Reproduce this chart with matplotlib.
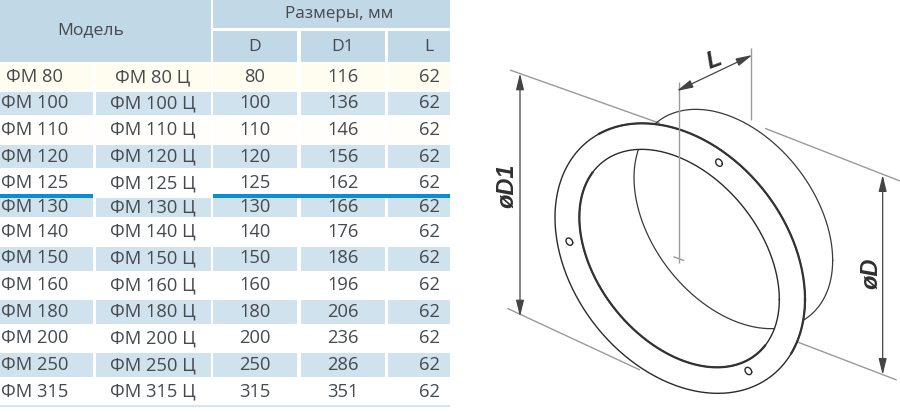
import numpy as np
import matplotlib
matplotlib.use("Agg")
import matplotlib.pyplot as plt
from matplotlib.patches import Rectangle, PathPatch
from matplotlib.path import Path

# ---- table content ----
models = ["ФМ 80", "ФМ 100", "ФМ 110", "ФМ 120", "ФМ 125", "ФМ 130", "ФМ 140",
          "ФМ 150", "ФМ 160", "ФМ 180", "ФМ 200", "ФМ 250", "ФМ 315"]
models_c = ["ФМ 80 Ц", "ФМ 100 Ц", "ФМ 110 Ц", "ФМ 120 Ц", "ФМ 125 Ц", "ФМ 130 Ц", "ФМ 140 Ц",
            "ФМ 150 Ц", "ФМ 160 Ц", "ФМ 180 Ц", "ФМ 200 Ц", "ФМ 250 Ц", "ФМ 315 Ц"]
d_values = [80, 100, 110, 120, 125, 130, 140, 150, 160, 180, 200, 250, 315]
d1_values = [116, 136, 146, 156, 162, 166, 176, 186, 196, 206, 236, 286, 351]
l_values = [62] * 13

plt.rcParams['font.family'] = ['Open Sans', 'DejaVu Sans']
TXT = '#454a4e'
HEAD = '#c1d8e6'
BAND = '#cfe2ed'
CREAM = '#fffdf0'
BLUE = '#0a8cd6'

fig = plt.figure(figsize=(9, 4.13), dpi=100)
ax = fig.add_axes([0, 0, 1, 1])
ax.set_xlim(0, 900)
ax.set_ylim(413, 0)
ax.axis('off')

def box(x0, x1, y0, y1, c, z=1):
    ax.add_patch(Rectangle((x0, y0), x1 - x0, y1 - y0, fc=c, ec='none', zorder=z))

cols = [(0, 93), (96, 210.5), (213, 297), (300.5, 384.5), (387.5, 450)]
col_c = [35, 153, 255, 343, 429]
row_c = [77, 103.3, 130, 156.7, 183.3, 207.5, 231.7, 258.3, 285, 311.7, 338.3, 365, 391.7]
bands = {1: (91.7, 115), 3: (145, 168.3), 5: (198, 217.3), 7: (246.7, 270.7),
         9: (300, 324), 11: (353.3, 377.3)}

# header
box(0, 210.5, 0, 62, HEAD)
box(213, 450, 0, 28, HEAD)
for x0, x1 in cols[2:]:
    box(x0, x1, 31, 62, HEAD)
ax.text(91, 30, "Модель", ha='center', va='center', fontsize=12.6, color=TXT)
ax.text(339, 14, "Размеры, мм", ha='center', va='center', fontsize=12.3, color=TXT)
for x, s in zip(col_c[2:], ["D", "D1", "L"]):
    ax.text(x, 47, s, ha='center', va='center', fontsize=12.6, color=TXT)

# body
for x0, x1 in cols:
    box(x0, x1, 64, 89, CREAM)
    box(x0, x1, 117, 143, '#fffefa')
    for y0, y1 in bands.values():
        box(x0, x1, y0, y1, BAND)
box(0, 93, 193.5, 197.5, BLUE, 3)
box(213, 450, 193.5, 197.5, BLUE, 3)
box(0, 450, 404.5, 406.5, '#d6e6f0')

for i, y in enumerate(row_c):
    vals = [models[i], models_c[i], d_values[i], d1_values[i], l_values[i]]
    for x, v in zip(col_c, vals):
        ax.text(x, y, str(v), ha='center', va='center', fontsize=13.2, color=TXT, zorder=2)

# ---- drawing (coordinates in a local frame, offset to the figure) ----
def P(zx, zy):
    return 490 + np.asarray(zx) / 3.0, 20 + np.asarray(zy) / 3.0

def ell(cx, cy, sxx, syy, sxy, n=360):
    t = np.linspace(0, 2 * np.pi, n)
    L = np.linalg.cholesky(np.array([[sxx, sxy], [sxy, syy]]))
    xy = L @ np.vstack([np.cos(t), np.sin(t)])
    return cx + xy[0], cy + xy[1]

GREY = '#9a9a9a'
DARK = '#2b2b2b'

def seg(x0, y0, x1, y1, c=GREY, lw=1.0, z=6):
    xs, ys = P([x0, x1], [y0, y1])
    ax.plot(xs, ys, color=c, lw=lw, zorder=z, solid_capstyle='butt')

def arc(e, ux, uy, thr, lw, c='#333333'):
    """Heavier part of an ellipse: points whose offset along (ux, uy) exceeds thr."""
    x, y = ell(*e)
    d = (x - e[0]) * ux + (y - e[1]) * uy
    x = np.where(d > thr, x, np.nan)
    y = np.where(d > thr, y, np.nan)
    px, py = P(x, y)
    ax.plot(px, py, color=c, lw=lw, zorder=5)

outer = (570, 715, 375**2, 405**2, 46000)
inner = (568, 715, 300**2, 327**2, 37000)
back = (730, 597, 298**2, 329**2, 37000)

# back rim of the tube
bx, by = P(*ell(*back))
ax.plot(bx, by, color='#3a3a3a', lw=0.9, zorder=3)

# white flange ring
ox, oy = P(*ell(*outer))
ix, iy = P(*ell(*inner))
ring_v = np.vstack([np.column_stack([ox, oy]), np.column_stack([ix[::-1], iy[::-1]])])
ring_c = [Path.MOVETO] + [Path.LINETO] * (len(ox) - 1) + [Path.MOVETO] + [Path.LINETO] * (len(ix) - 1)
ax.add_patch(PathPatch(Path(ring_v, ring_c), fc='white', ec='none', zorder=4))
ax.plot(ox, oy, color=DARK, lw=1.0, zorder=5)
ax.plot(ix, iy, color=DARK, lw=1.0, zorder=5)

# thickened edges
arc(inner, -0.7, 0.7, 0, 1.6)
arc(outer, 0.75, -0.66, 60, 1.6)

# bolt holes
for hx, hy in [(687, 428), (238, 665), (775, 1053)]:
    cx, cy = P(*ell(hx, hy, 10**2, 11**2, 30, n=40))
    ax.plot(cx, cy, color=DARK, lw=1.0, zorder=5)

# extension lines
seg(60, 150, 510, 310, z=2)
seg(825, 325, 1230, 483, z=2)
seg(52, 865, 450, 1050, z=2)
seg(920, 965, 1220, 1080, z=2)
seg(567, 185, 567, 728)
seg(550, 710, 583, 722)
seg(783, 85, 783, 300, z=2)

def arrow(x0, y0, x1, y1):
    a, b = P([x0, x1], [y0, y1])
    ax.annotate('', xy=(a[1], b[1]), xytext=(a[0], b[0]), zorder=6,
                arrowprops=dict(arrowstyle='<|-|>,head_length=0.9,head_width=0.22',
                                color='#444444', lw=0.9,
                                mutation_scale=11, shrinkA=0, shrinkB=0))

arrow(90, 160, 90, 890)
arrow(1178, 465, 1178, 1065)
arrow(560, 213, 787, 105)

def label(zx, zy, s, rot):
    x, y = P(zx, zy)
    ax.text(x, y, s, ha='center', va='center', rotation=rot, fontsize=17,
            fontweight='bold', fontstyle='italic', color='#2f2f2f', zorder=7,
            family=['Liberation Sans', 'DejaVu Sans'])

label(50, 497, "øD1", 90)
label(1143, 760, "øD", 90)
label(672, 122, "L", 20)

fig.savefig('out.png', dpi=100, facecolor='white')
